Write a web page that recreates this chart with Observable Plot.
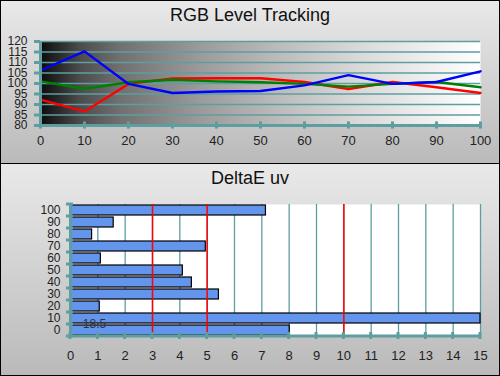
<!DOCTYPE html>
<html><head><meta charset="utf-8">
<script src="https://cdn.jsdelivr.net/npm/d3@7"></script>
<script src="https://cdn.jsdelivr.net/npm/@observablehq/plot@0.6"></script>
<style>
html,body{margin:0;padding:0;}
#wrap{position:relative;width:498px;height:374px;border:1px solid #000;overflow:hidden;font-family:"Liberation Sans",Arial,sans-serif;}
.panel{position:absolute;left:0;width:498px;background:linear-gradient(#e9e9e9,#bababa);}
.title{position:absolute;left:0;width:498px;text-align:center;color:#111;font-size:18px;}
.panel svg{position:absolute;left:0;top:0;background:transparent;}
</style>
</head><body>
<div id="wrap">
  <div class="panel" id="p1" style="top:0;height:162px;"><div class="title" style="top:4px;">RGB Level Tracking</div></div>
  <div style="position:absolute;left:0;top:162px;width:498px;height:1px;background:#000"></div>
  <div class="panel" id="p2" style="top:163px;height:211px;"><div class="title" style="top:4px;">DeltaE uv</div></div>
</div>
<script>
const levels = [0,10,20,30,40,50,60,70,80,90,100];
const red   = [92.3,86.7,99.8,102.4,102.5,102.5,100.7,97.4,100.7,98.2,95.5];
const green = [101,97.5,100.6,101.8,101,100.6,99.8,98.5,99.8,100.7,98.2];
const blue  = [106.2,115.3,99.8,95.5,96.2,96.4,99.1,104,99.8,100.7,105.8];
const yTicks = [80,85,90,95,100,105,110,115,120];
const deLevels = [100,90,80,70,60,50,40,30,20,10,0];
const deValues = [7.15,1.58,0.79,4.95,1.11,4.11,4.44,5.43,1.07,18.5,8.02];
const refLines = [3,5,10];
const teal = "#5f9ea0";

function defsMark(){
  const ns="http://www.w3.org/2000/svg";
  const defs=document.createElementNS(ns,"defs");
  defs.innerHTML=`<linearGradient id="bw" x1="0" x2="1" y1="0" y2="0">
   <stop offset="0" stop-color="#0c0c0c"/><stop offset="0.09" stop-color="#4c4c4c"/>
   <stop offset="0.18" stop-color="#707070"/><stop offset="0.36" stop-color="#9a9a9a"/>
   <stop offset="0.55" stop-color="#bdbdbd"/><stop offset="0.73" stop-color="#dadada"/>
   <stop offset="1" stop-color="#ffffff"/></linearGradient>`;
  return defs;
}

const rgb = levels.flatMap((l,i)=>[
  {level:l,v:red[i],s:"R"},{level:l,v:green[i],s:"G"},{level:l,v:blue[i],s:"B"}]);

const p1 = Plot.plot({
  width:498, height:162,
  marginTop:40, marginBottom:38, marginLeft:39, marginRight:19,
  style:{fontFamily:"Liberation Sans, Arial, sans-serif", fontSize:"12px", color:"#222", background:"transparent"},
  x:{domain:[0,100], label:null},
  y:{domain:[80,120], label:null},
  color:{domain:["R","G","B"], range:["#ff0000","#008000","#0000ff"]},
  marks:[
    defsMark,
    Plot.frame({fill:"url(#bw)", stroke:"none"}),
    Plot.gridY(yTicks,{stroke:teal, strokeOpacity:1, strokeWidth:1.3}),
    Plot.line(rgb,{x:"level", y:"v", stroke:"s", z:"s", strokeWidth:2.4}),
    Plot.ruleX([0],{stroke:teal, strokeWidth:3}),
    Plot.ruleY([80],{stroke:teal, strokeWidth:3}),
    Plot.axisY(yTicks,{tickSize:6, stroke:teal, strokeWidth:3, tickPadding:7, fontSize:12, fill:"#222", label:null}),
    Plot.ruleX(levels,{x:d=>d, y1:78.3, y2:81.7, stroke:teal, strokeWidth:3}),
    Plot.axisX(levels,{tickSize:0, tickPadding:10, fontSize:13, fill:"#222", label:null})
  ]
});
document.getElementById("p1").appendChild(p1);

const de = deLevels.map((l,i)=>({level:String(l), v:deValues[i]}));
const xTicks = d3.range(0,16);
const p2 = Plot.plot({
  width:498, height:211,
  marginTop:40, marginBottom:39, marginLeft:69, marginRight:19,
  style:{fontFamily:"Liberation Sans, Arial, sans-serif", fontSize:"12px", color:"#222", background:"transparent"},
  x:{domain:[0,15], label:null},
  y:{domain:deLevels.map(String), paddingInner:0.16, paddingOuter:0.08, label:null},
  marks:[
    Plot.frame({fill:"white", stroke:"none"}),
    Plot.gridX(xTicks,{stroke:teal, strokeOpacity:1, strokeWidth:1.3}),
    Plot.barX(de,{x:d=>Math.min(d.v,15), y:"level", fill:"#6495ed", stroke:"#000", strokeWidth:1.2}),
    Plot.ruleX(refLines,{stroke:"#ff0000", strokeWidth:1.5}),
    Plot.text(de.filter(d=>d.v>15),{x:0.45, y:"level", text:d=>String(d.v), dy:6, textAnchor:"start", fontSize:12, fill:"#333"}),
    Plot.ruleX([0],{stroke:teal, strokeWidth:3}),
    Plot.axisY({tickSize:0, tickPadding:10, fontSize:12, fill:"#222", label:null}),
    Plot.axisX(xTicks,{tickSize:0, tickPadding:14, fontSize:13, fill:"#222", label:null})
  ]
});
{
  const sx = p2.scale("x"), sy = p2.scale("y");
  const svg = d3.select(p2);
  const bottom = 211-39, left = sx.apply(0), right = sx.apply(15);
  svg.append("line").attr("x1",left).attr("x2",right).attr("y1",bottom).attr("y2",bottom).attr("stroke",teal).attr("stroke-width",3);
  xTicks.forEach(t=>svg.append("line").attr("x1",sx.apply(t)).attr("x2",sx.apply(t)).attr("y1",bottom-4).attr("y2",bottom+3).attr("stroke",teal).attr("stroke-width",3));
  const step = sy.step;
  const y0 = sy.apply(deLevels[0].toString()) - sy.paddingOuter*step;
  for(let k=0;k<=deLevels.length;k++){
    const yy = y0 + k*step;
    svg.append("line").attr("x1",left-4).attr("x2",left+3).attr("y1",yy).attr("y2",yy).attr("stroke",teal).attr("stroke-width",3);
  }
}
document.getElementById("p2").appendChild(p2);
</script>
</body></html>
